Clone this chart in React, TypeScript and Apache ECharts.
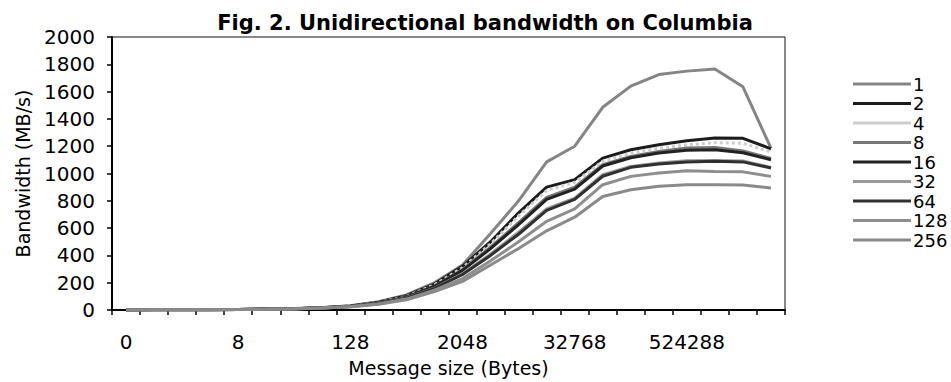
import React, { useEffect, useRef } from "react";
import * as echarts from "echarts";

const sizes = ["0", "1", "2", "4", "8", "16", "32", "64", "128", "256", "512", "1024", "2048", "4096", "8192", "16384", "32768", "65536", "131072", "262144", "524288", "1048576", "2097152", "4194304"];

const pairs = ["1", "2", "4", "8", "16", "32", "64", "128", "256"];

const s1 = [0, 1, 1, 2, 4, 7, 11, 18, 32, 60, 110, 200, 330, 560, 800, 1085, 1200, 1485, 1640, 1725, 1750, 1765, 1635, 1185];
const s2 = [0, 1, 1, 2, 4, 7, 10, 17, 30, 57, 105, 190, 320, 500, 712, 900, 955, 1113, 1174, 1211, 1240, 1260, 1258, 1181];
const s4 = [0, 1, 1, 2, 4, 6, 10, 17, 29, 55, 100, 185, 310, 485, 690, 875, 935, 1090, 1150, 1185, 1210, 1225, 1222, 1157];
const s8 = [0, 1, 1, 2, 4, 6, 10, 16, 28, 52, 96, 175, 295, 460, 640, 825, 900, 1064, 1125, 1162, 1186, 1190, 1165, 1110];
const s16 = [0, 1, 1, 2, 3, 6, 10, 16, 28, 51, 94, 172, 290, 450, 625, 810, 885, 1055, 1115, 1150, 1170, 1174, 1152, 1101];
const s32 = [0, 1, 1, 2, 3, 6, 9, 15, 26, 48, 88, 160, 265, 410, 570, 740, 820, 991, 1052, 1077, 1094, 1095, 1092, 1045];
const s64 = [0, 1, 1, 2, 3, 6, 9, 15, 26, 47, 86, 158, 260, 400, 555, 730, 810, 980, 1045, 1070, 1085, 1089, 1085, 1040];
const s128 = [0, 1, 1, 2, 3, 5, 9, 14, 24, 44, 80, 145, 230, 360, 500, 650, 740, 918, 979, 1004, 1020, 1015, 1012, 979];
const s256 = [0, 1, 1, 2, 3, 5, 8, 14, 23, 42, 75, 135, 210, 330, 450, 580, 680, 832, 881, 906, 918, 918, 915, 894];

const allSeries = [s1, s2, s4, s8, s16, s32, s64, s128, s256];
const colors = ["#858585", "#1c1c1c", "#cdcdcd", "#767676", "#222222", "#9a9a9a", "#303030", "#8e8e8e", "#8a8a8a"];

const FONT = "DejaVu Sans";

export default function App() {
  const ref = useRef<HTMLDivElement>(null);
  useEffect(() => {
    if (!ref.current) return;
    const chart = echarts.init(ref.current, undefined, { renderer: "svg" });
    chart.setOption({
      animation: false,
      backgroundColor: "#ffffff",
      title: {
        text: "Fig. 2. Unidirectional bandwidth on Columbia",
        left: 480,
        top: 7,
        textAlign: "center",
        textStyle: { fontFamily: FONT, fontSize: 21, fontWeight: "bold", color: "#000" },
      },
      legend: {
        orient: "vertical",
        left: 848,
        top: 70,
        itemWidth: 58,
        itemHeight: 3,
        itemGap: 1.5,
        icon: "rect",
        data: pairs.map((p, i) => ({ name: p, itemStyle: { color: colors[i] } })),
        textStyle: { fontFamily: FONT, fontSize: 18, lineHeight: 18, color: "#000", padding: [0, 0, 0, -3] },
      },
      grid: {
        left: 112,
        right: 166,
        top: 37,
        bottom: 71,
        show: true,
        borderColor: "#111",
        borderWidth: 1,
      },
      xAxis: {
        type: "category",
        data: sizes,
        boundaryGap: true,
        name: "Message size (Bytes)",
        nameLocation: "middle",
        nameGap: 48,
        nameTextStyle: { fontFamily: FONT, fontSize: 19, color: "#000" },
        axisLine: { lineStyle: { color: "#000", width: 2 } },
        axisTick: { show: true, interval: 0, length: 5, lineStyle: { color: "#000", width: 1.5 } },
        axisLabel: { interval: 3, margin: 22, fontFamily: FONT, fontSize: 20, color: "#000" },
        splitLine: { show: false },
      },
      yAxis: {
        type: "value",
        min: 0,
        max: 2000,
        interval: 200,
        name: "Bandwidth (MB/s)",
        nameLocation: "middle",
        nameGap: 80,
        nameTextStyle: { fontFamily: FONT, fontSize: 19, color: "#000" },
        axisLine: { show: true, lineStyle: { color: "#000", width: 2 } },
        axisTick: { show: true, length: 5, lineStyle: { color: "#000", width: 1.5 } },
        axisLabel: { margin: 17, fontFamily: FONT, fontSize: 20, color: "#000", formatter: (v: number) => String(v) },
        splitLine: { show: false },
      },
      series: allSeries.map((d, i) => ({
        name: pairs[i],
        type: "line",
        data: d,
        symbol: "none",
        lineStyle: { color: colors[i], width: 3, type: i === 2 ? "dotted" : "solid" },
        itemStyle: { color: colors[i] },
      })),
    });
    return () => chart.dispose();
  }, []);
  return <div ref={ref} style={{ width: 951, height: 382, position: "absolute", left: 0, top: 0 }} />;
}
